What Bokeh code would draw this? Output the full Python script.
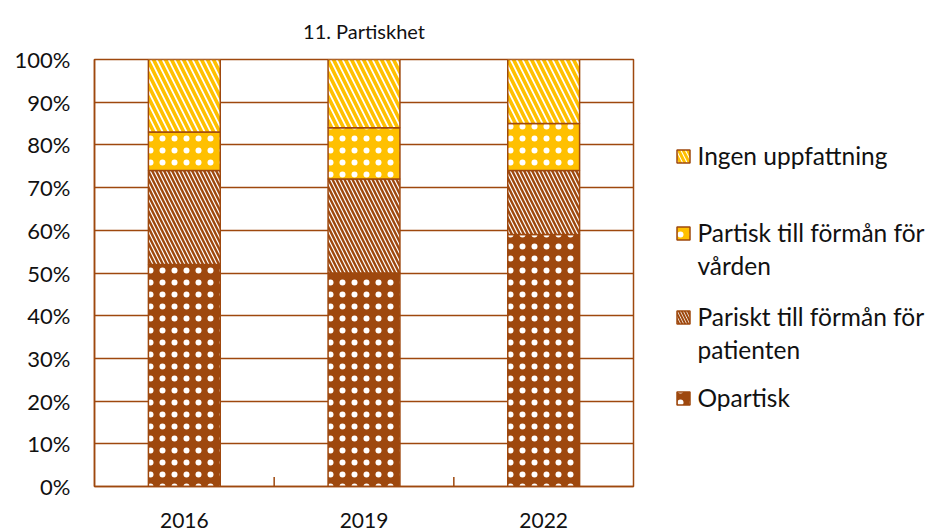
import numpy as np
from bokeh.plotting import figure
from bokeh.layouts import row
from bokeh.models import Range1d, FixedTicker, PrintfTickFormatter
from bokeh.core.properties import value
from bokeh.embed import file_html
from bokeh.resources import INLINE

# ---- data ----
title = "11. Partiskhet"
years = ["2016", "2019", "2022"]
opartisk = [52, 50, 59]
pariskt_patient = [22, 22, 15]
partisk_varden = [9, 12, 11]
ingen = [17, 16, 15]
legend_labels = [
    ["Ingen uppfattning"],
    ["Partisk till förmån för", "vården"],
    ["Pariskt till förmån för", "patienten"],
    ["Opartisk"],
]
y_ticks = list(range(0, 101, 10))

BROWN = "#9E480E"
YELLOW = "#FFC000"
FONT = "Lato"
TXT = "#111111"

series = [opartisk, pariskt_patient, partisk_varden, ingen]
styles = [
    dict(fill_color=BROWN, hatch_pattern="dot", hatch_color="white", hatch_scale=12, hatch_weight=0.1),
    dict(fill_color="white", hatch_pattern="left_diagonal_line", hatch_color=BROWN, hatch_scale=8, hatch_weight=2.4),
    dict(fill_color=YELLOW, hatch_pattern="dot", hatch_color="white", hatch_scale=12, hatch_weight=0.1),
    dict(fill_color="white", hatch_pattern="left_diagonal_line", hatch_color=YELLOW, hatch_scale=12, hatch_weight=3.6),
]

n = len(years)
xs = np.arange(n) + 0.5

p = figure(width=650, height=530, output_backend="svg", toolbar_location=None,
           x_range=Range1d(0, n), y_range=Range1d(0, 100),
           min_border_left=94, min_border_right=17, min_border_top=59, min_border_bottom=44)
p.background_fill_color = "white"
p.border_fill_color = "white"
p.outline_line_color = BROWN
p.outline_line_width = 1.5

p.title.text = title
p.title.align = "center"
p.title.offset = 6
p.title.standoff = 33
p.title.text_font = FONT
p.title.text_font_size = "20px"
p.title.text_font_style = "normal"
p.title.text_color = TXT

bottom = np.zeros(n)
for vals, st in zip(series, styles):
    top = bottom + np.array(vals, dtype=float)
    p.vbar(x=xs, width=0.4, bottom=bottom, top=top, line_color=BROWN, line_width=1.5, **st)
    bottom = top

# category boundary tick marks (inside)
bx = np.arange(1, n)
p.segment(x0=bx, y0=np.zeros(len(bx)), x1=bx, y1=np.full(len(bx), 2.2), line_color=BROWN, line_width=1.5)

p.xgrid.visible = False
p.ygrid.ticker = FixedTicker(ticks=y_ticks)
p.ygrid.grid_line_color = BROWN
p.ygrid.grid_line_width = 1.5

p.yaxis.ticker = FixedTicker(ticks=y_ticks)
p.yaxis.formatter = PrintfTickFormatter(format="%d%%")
p.yaxis.major_tick_in = 0
p.yaxis.major_tick_out = 0
p.yaxis.minor_tick_line_color = None
p.yaxis.axis_line_color = BROWN
p.yaxis.axis_line_width = 1.5
p.yaxis.major_label_standoff = 24
p.yaxis.major_label_text_font = FONT
p.yaxis.major_label_text_font_size = "22px"
p.yaxis.major_label_text_color = TXT

p.xaxis.ticker = FixedTicker(ticks=list(xs))
p.xaxis.major_label_overrides = {float(x): y for x, y in zip(xs, years)}
p.xaxis.major_tick_line_color = None
p.xaxis.minor_tick_line_color = None
p.xaxis.axis_line_color = BROWN
p.xaxis.axis_line_width = 1.5
p.xaxis.major_label_standoff = 20
p.xaxis.major_label_text_font = FONT
p.xaxis.major_label_text_font_size = "21px"
p.xaxis.major_label_text_color = TXT

# ---- legend panel (frame is aligned with the main plot's frame) ----
LW = 279
lg = figure(width=LW, height=530, output_backend="svg", toolbar_location=None,
            x_range=Range1d(0, LW), y_range=Range1d(486, 59),
            x_axis_location=None, y_axis_location=None, min_border=0)
lg.outline_line_color = None
lg.grid.visible = False
lg.background_fill_color = "white"
lg.border_fill_color = "white"

leg_y = [155, 232, 316, 397]
line_gap = 33
leg_styles = [styles[3], styles[2], styles[1], styles[0]]
icon_scale = [9, 12, 6, 12]
icon_weight = [3.0, 0.1, 2.0, 0.1]
for yy, labs, st, sc, wt in zip(leg_y, legend_labels, leg_styles, icon_scale, icon_weight):
    st2 = dict(st)
    st2["hatch_scale"] = sc
    st2["hatch_weight"] = wt
    lg.rect(x=[33], y=[yy + 1], width=13, height=13, line_color=BROWN, line_width=1.5, **st2)
    lg.text(x=[47] * len(labs), y=[yy + i * line_gap for i in range(len(labs))], text=labs,
            text_font=value(FONT), text_font_size="24.5px", text_color=TXT,
            text_align="left", text_baseline="middle")

layout = row(p, lg)
open("out.html", "w").write(file_html(layout, INLINE))
